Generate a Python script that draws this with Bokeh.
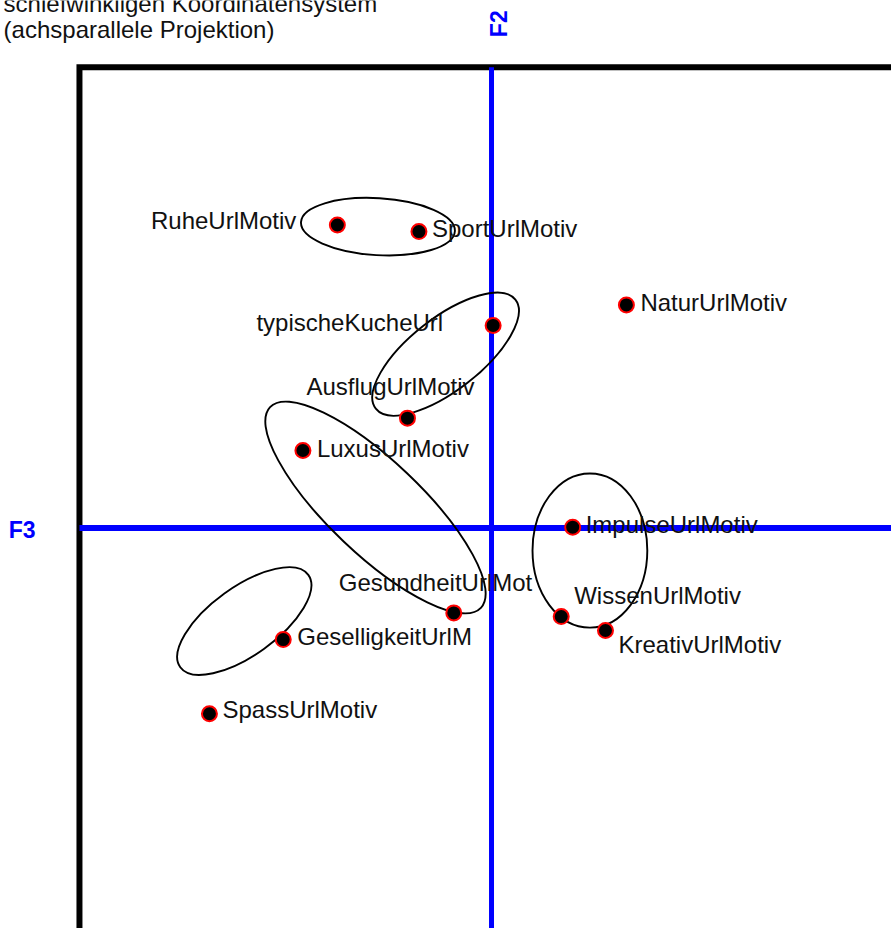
import math
from bokeh.plotting import figure
from bokeh.models import ColumnDataSource, Range1d
from bokeh.core.properties import value
from bokeh.embed import file_html
from bokeh.resources import INLINE

# ---- data (factor coordinates, F3 horizontal / F2 vertical) ----
names = ["RuheUrlMotiv", "SportUrlMotiv", "typischeKucheUrl", "NaturUrlMotiv",
         "AusflugUrlMotiv", "LuxusUrlMotiv", "ImpulseUrlMotiv", "GesundheitUrlMot",
         "WissenUrlMotiv", "KreativUrlMotiv", "GeselligkeitUrlM", "SpassUrlMotiv"]
f3 = [-0.376, -0.177, 0.004, 0.329, -0.205, -0.460, 0.198, -0.092, 0.170, 0.278, -0.508, -0.688]
f2 = [0.739, 0.723, 0.494, 0.544, 0.268, 0.189, 0.002, -0.207, -0.216, -0.250, -0.272, -0.453]

# cluster ellipses: centre, width, height, angle (deg)
ell_x = [-0.277, -0.112, -0.283, 0.240, -0.603]
ell_y = [0.735, 0.424, 0.050, -0.055, -0.227]
ell_w = [0.376, 0.432, 0.710, 0.280, 0.385]
ell_h = [0.139, 0.176, 0.227, 0.376, 0.166]
ell_a = [-3.4, 38.0, -43.6, 0.0, 35.8]

# frame of the oblique coordinate system
frame_left = -1.005
frame_top = 1.124

title_lines = ["schiefwinkligen Koordinatensystem", "(achsparallele Projektion)"]
axis_names = ["F3", "F2"]

# ---- layout of labels (screen px offsets, alignment) ----
lab_dx = [-41, 13, -50, 14, -101, 14, 13, -115, 13, 13, 14, 13]
lab_dy = [-5, -3, -3, -2, -32, -2, -3, -30, -21, 14, -3, -4]
lab_align = ["right", "left", "right", "left", "left", "left", "left", "left",
             "left", "left", "left", "left"]

W, H = 891, 928
p = figure(width=W, height=H, output_backend="svg", toolbar_location=None,
           x_range=Range1d(-1.1976, 0.9756), y_range=Range1d(-0.9768, 1.2866),
           min_border=0)
p.axis.visible = False
p.grid.visible = False
p.outline_line_color = None
p.background_fill_color = "white"
p.border_fill_color = "white"

FONT = value("Liberation Sans")

# black frame
p.line([frame_left, frame_left, 2.0], [-2.0, frame_top, frame_top],
       line_color="black", line_width=6, line_join="miter")

# blue axes
p.line([0, 0], [-2.0, frame_top], line_color="#0000FF", line_width=5)
p.line([frame_left, 2.0], [0, 0], line_color="#0000FF", line_width=6)

# ellipses
p.ellipse(x=ell_x, y=ell_y, width=ell_w, height=ell_h,
          angle=[math.radians(a) for a in ell_a],
          fill_color=None, line_color="black", line_width=1.9)

# points
src = ColumnDataSource(dict(x=f3, y=f2, name=names, dx=lab_dx, dy=lab_dy, al=lab_align))
p.scatter("x", "y", source=src, size=15, fill_color="black",
          line_color="#FF0000", line_width=2)

p.text("x", "y", text="name", source=src, x_offset="dx", y_offset="dy",
       text_align="al", text_baseline="alphabetic", text_font=FONT,
       text_font_size="24px", text_color="#111111")

# title (top-left, partly cut)
p.text(x=[-1.190, -1.190], y=[1.257, 1.194], text=title_lines,
       text_align="left", text_baseline="alphabetic", text_font=FONT,
       text_font_size="24px", text_color="#111111", y_offset=-9)

# axis names
p.text(x=[-1.145], y=[-0.006], text=[axis_names[0]], text_align="center",
       text_baseline="middle", text_font=FONT, text_font_style="bold",
       text_font_size="23px", text_color="#0000FF")
p.text(x=[0.018], y=[1.230], text=[axis_names[1]], text_align="center",
       text_baseline="middle", angle=math.pi / 2, text_font=FONT,
       text_font_style="bold", text_font_size="23px", text_color="#0000FF")

open("out.html", "w").write(file_html(p, INLINE))
